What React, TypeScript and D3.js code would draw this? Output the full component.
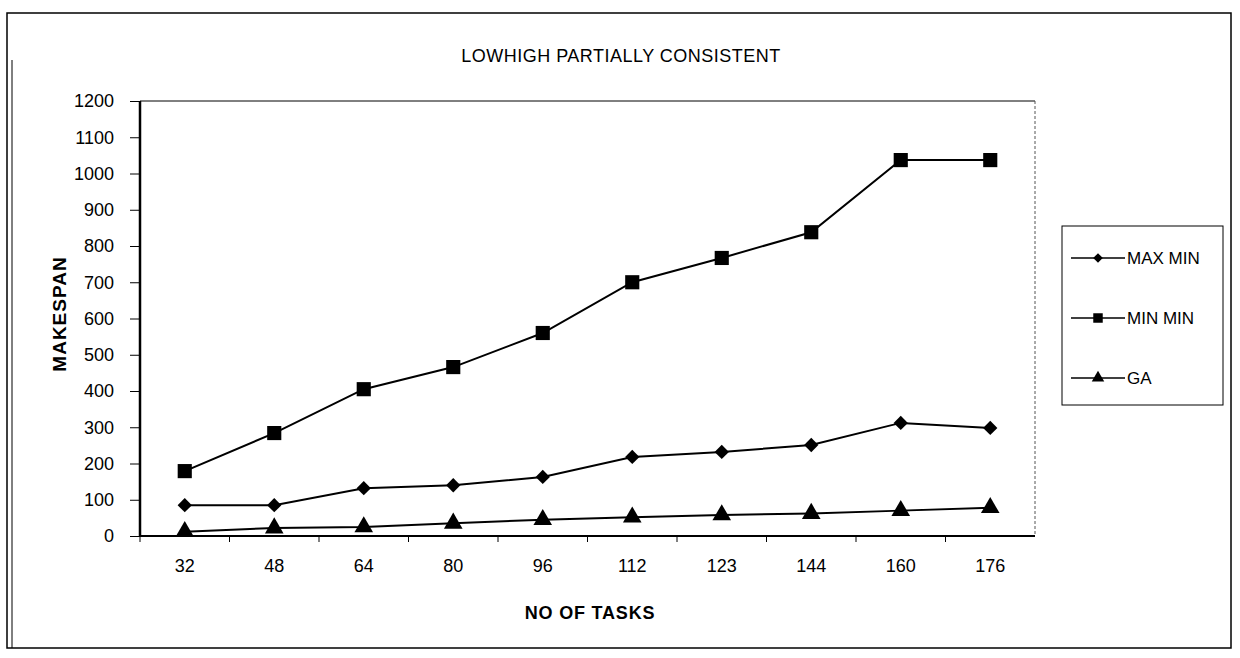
import * as d3 from "d3";
import { useRef, useEffect } from "react";

const tasks = ["32", "48", "64", "80", "96", "112", "123", "144", "160", "176"];
const maxMin = [85, 85, 132, 140, 163, 218, 232, 251, 312, 298];
const minMin = [179, 284, 405, 466, 560, 700, 767, 838, 1037, 1037];
const ga = [12, 22, 25, 35, 45, 52, 58, 62, 70, 78];
const yTicks = [0, 100, 200, 300, 400, 500, 600, 700, 800, 900, 1000, 1100, 1200];

const W = 1240;
const H = 658;
const margin = { left: 140, top: 101, right: 1035, bottom: 536 };
const FONT = "'Liberation Sans', Arial, sans-serif";

function App() {
  const ref = useRef<SVGSVGElement>(null);

  useEffect(() => {
    const svg = d3.select(ref.current);
    svg.selectAll("*").remove();
    svg.attr("width", W).attr("height", H).style("font-family", FONT);

    svg.append("rect").attr("width", W).attr("height", H).attr("fill", "#fff");

    // outer frame (double left edge like the scan)
    const frame = svg.append("g").attr("fill", "none").attr("stroke", "#000");
    frame.append("rect").attr("x", 7).attr("y", 13).attr("width", 1224).attr("height", 635).attr("stroke-width", 1.5);
    frame.append("line").attr("x1", 12).attr("x2", 12).attr("y1", 60).attr("y2", 648).attr("stroke-width", 1);

    const x = d3.scaleBand().domain(tasks).range([margin.left, margin.right]);
    const y = d3.scaleLinear().domain([0, 1200]).range([margin.bottom, margin.top]);

    // plot area border (top solid, right dotted)
    svg.append("line").attr("x1", margin.left).attr("x2", margin.right).attr("y1", margin.top).attr("y2", margin.top)
      .attr("stroke", "#000").attr("stroke-width", 1);
    svg.append("line").attr("x1", margin.right).attr("x2", margin.right).attr("y1", margin.top).attr("y2", margin.bottom)
      .attr("stroke", "#555").attr("stroke-width", 1).attr("stroke-dasharray", "3,2");

    // y axis
    const yAxis = svg.append("g").attr("transform", `translate(${margin.left},0)`)
      .call(d3.axisLeft(y).tickValues(yTicks).tickSize(10).tickPadding(16).tickFormat(d3.format("d")));
    yAxis.select(".domain").attr("stroke-width", 2.5).attr("d", `M0,${margin.top}V${margin.bottom}`);
    yAxis.selectAll("text").attr("font-size", 18).attr("font-family", FONT).attr("fill", "#000");

    // x axis, ticks between categories
    const xAxis = svg.append("g").attr("transform", `translate(0,${margin.bottom})`)
      .call(d3.axisBottom(x).tickSize(0).tickPadding(23));
    xAxis.select(".domain").attr("stroke-width", 2).attr("d", `M${margin.left},0H${margin.right}`);
    xAxis.selectAll("text").attr("font-size", 18).attr("font-family", FONT).attr("fill", "#000");
    svg.append("g").selectAll("line").data(tasks).join("line")
      .attr("x1", (d) => x(d)!).attr("x2", (d) => x(d)!)
      .attr("y1", margin.bottom).attr("y2", margin.bottom + 6)
      .attr("stroke", "#000");

    const cx = (i: number) => x(tasks[i])! + x.bandwidth() / 2;
    const line = d3.line<number>().x((_, i) => cx(i)).y((d) => y(d));

    const series = [
      { name: "MAX MIN", values: maxMin, symbol: d3.symbolDiamond2, size: 130 },
      { name: "MIN MIN", values: minMin, symbol: d3.symbolSquare, size: 200 },
      { name: "GA", values: ga, symbol: d3.symbolTriangle, size: 150 },
    ];

    series.forEach((s) => {
      svg.append("path").datum(s.values).attr("d", line).attr("fill", "none").attr("stroke", "#000").attr("stroke-width", 2);
      svg.append("g").selectAll("path").data(s.values).join("path")
        .attr("transform", (d, i) => `translate(${cx(i)},${y(d)})`)
        .attr("d", d3.symbol(s.symbol, s.size)())
        .attr("fill", "#000");
    });

    // title and axis labels
    svg.append("text").attr("x", 621).attr("y", 62).attr("text-anchor", "middle")
      .attr("font-size", 18).attr("letter-spacing", 0.5).text("LOWHIGH PARTIALLY CONSISTENT");
    svg.append("text").attr("transform", "translate(66,314) rotate(-90)").attr("text-anchor", "middle")
      .attr("font-size", 19).attr("font-weight", "bold").attr("letter-spacing", 1).text("MAKESPAN");
    svg.append("text").attr("x", 590).attr("y", 619).attr("text-anchor", "middle")
      .attr("font-size", 18).attr("font-weight", "bold").attr("letter-spacing", 0.8).text("NO OF TASKS");

    // legend
    const lg = svg.append("g");
    lg.append("rect").attr("x", 1062).attr("y", 226).attr("width", 161).attr("height", 179)
      .attr("fill", "#fff").attr("stroke", "#000");
    series.forEach((s, i) => {
      const ly = 258 + i * 60;
      lg.append("line").attr("x1", 1071).attr("x2", 1125).attr("y1", ly).attr("y2", ly).attr("stroke", "#000").attr("stroke-width", 1.5);
      lg.append("path").attr("transform", `translate(1098,${ly})`).attr("d", d3.symbol(s.symbol, s.size * 0.45)()).attr("fill", "#000");
      lg.append("text").attr("x", 1127).attr("y", ly + 6).attr("font-size", 17).text(s.name);
    });
  }, []);

  return (
    <div style={{ position: "absolute", left: 0, top: 0 }}>
      <svg ref={ref}></svg>
    </div>
  );
}

export default App;
